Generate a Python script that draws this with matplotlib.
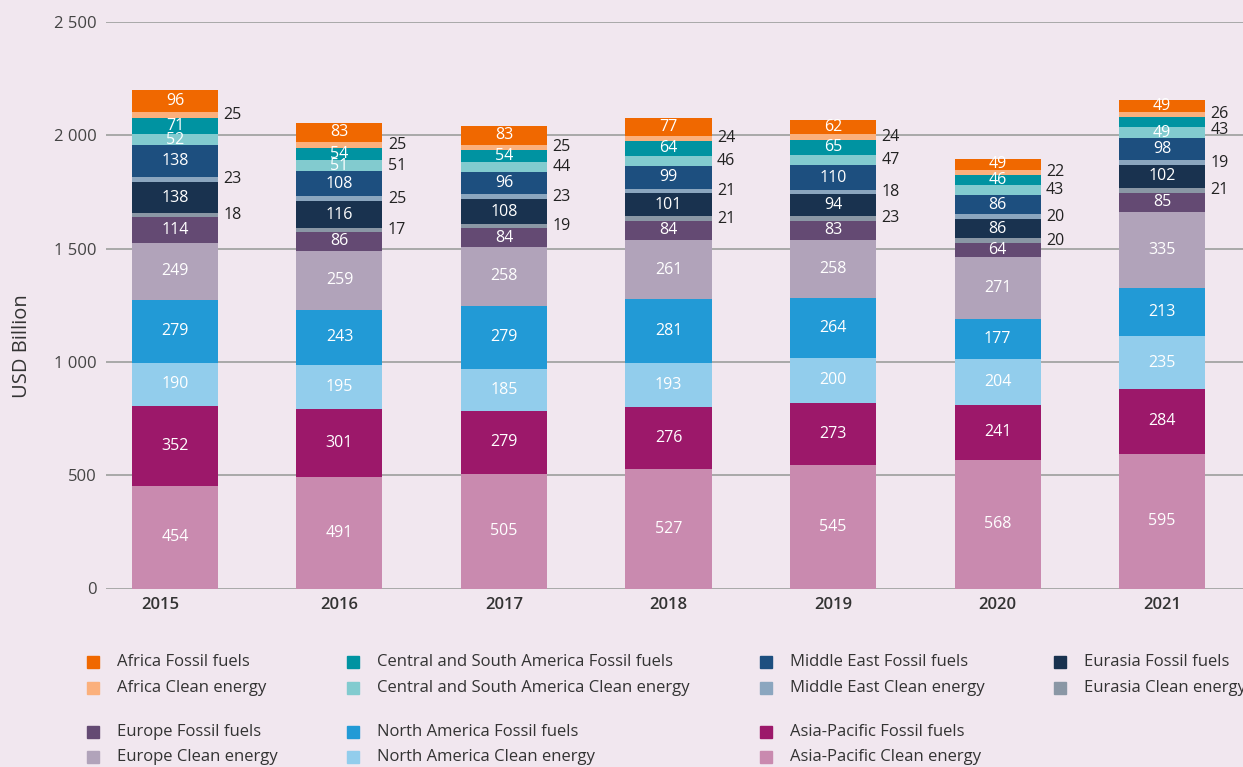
import matplotlib
matplotlib.use("Agg")
from matplotlib import pyplot as plt
from matplotlib.patches import Rectangle
from matplotlib.ticker import FuncFormatter
import matplotlib.transforms as mtransforms

years = [2015, 2016, 2017, 2018, 2019, 2020, 2021]

# stacked bottom -> top
ap_clean = [454, 491, 505, 527, 545, 568, 595]
ap_fossil = [352, 301, 279, 276, 273, 241, 284]
na_clean = [190, 195, 185, 193, 200, 204, 235]
na_fossil = [279, 243, 279, 281, 264, 177, 213]
eu_clean = [249, 259, 258, 261, 258, 271, 335]
eu_fossil = [114, 86, 84, 84, 83, 64, 85]
ea_clean = [18, 17, 19, 21, 23, 20, 21]
ea_fossil = [138, 116, 108, 101, 94, 86, 102]
me_clean = [23, 25, 23, 21, 18, 20, 19]
me_fossil = [138, 108, 96, 99, 110, 86, 98]
csa_clean = [52, 51, 44, 46, 47, 43, 49]
csa_fossil = [71, 54, 54, 64, 65, 46, 43]
af_clean = [25, 25, 25, 24, 24, 22, 26]
af_fossil = [96, 83, 83, 77, 62, 49, 49]

series = [
    ("Asia-Pacific Clean energy", ap_clean, "#c98aaf"),
    ("Asia-Pacific Fossil fuels", ap_fossil, "#9c186a"),
    ("North America Clean energy", na_clean, "#92cdec"),
    ("North America Fossil fuels", na_fossil, "#229ad6"),
    ("Europe Clean energy", eu_clean, "#b1a3ba"),
    ("Europe Fossil fuels", eu_fossil, "#644a73"),
    ("Eurasia Clean energy", ea_clean, "#8a97a5"),
    ("Eurasia Fossil fuels", ea_fossil, "#19324f"),
    ("Middle East Clean energy", me_clean, "#8ba6bf"),
    ("Middle East Fossil fuels", me_fossil, "#1d4f7f"),
    ("Central and South America Clean energy", csa_clean, "#82cbcf"),
    ("Central and South America Fossil fuels", csa_fossil, "#0093a1"),
    ("Africa Clean energy", af_clean, "#fbb07c"),
    ("Africa Fossil fuels", af_fossil, "#f06800"),
]

# labels drawn beside the bar instead of (or as well as) inside it
csa_c = "Central and South America Clean energy"
csa_f = "Central and South America Fossil fuels"
outside_extra = {(csa_c, 2016), (csa_c, 2017), (csa_c, 2018), (csa_c, 2019),
                 (csa_c, 2020), (csa_f, 2021)}
no_inside = {(csa_c, 2017), (csa_c, 2018), (csa_c, 2019), (csa_c, 2020),
             (csa_f, 2021)}

bg = "#f1e7ef"
plt.rcParams['font.family'] = ['Open Sans', 'DejaVu Sans']

fig = plt.figure(figsize=(12.43, 7.67), dpi=100, facecolor=bg)
ax = fig.add_axes([106 / 1243, 1 - 588.5 / 767, 1 - 106 / 1243, (588.5 - 22) / 767])
ax.set_facecolor(bg)

x = list(range(len(years)))
w = 0.523
px_per_unit = (588.5 - 22) / 2500
min_gap = 16 / px_per_unit  # minimum spacing of side labels, in data units
bottom = [0] * len(years)
side_labels = [[] for _ in years]
for name, vals, col in series:
    ax.bar(x, vals, w, bottom=bottom, color=col, zorder=3)
    for i, v in enumerate(vals):
        yc = bottom[i] + v / 2
        key = (name, years[i])
        outside = v < 30 or key in outside_extra
        inside = v >= 30 and key not in no_inside
        if inside:
            ax.text(x[i], yc, str(v), ha="center", va="center", color="white",
                    fontsize=11.5, zorder=4)
        if outside:
            side_labels[i].append([yc, v])
    bottom = [b + v for b, v in zip(bottom, vals)]

for i, labs in enumerate(side_labels):
    labs.sort(key=lambda t: -t[0])
    for j in range(1, len(labs)):
        if labs[j - 1][0] - labs[j][0] < min_gap:
            labs[j][0] = labs[j - 1][0] - min_gap
    for yc, v in labs:
        ax.annotate(str(v), (x[i] + w / 2, yc), xytext=(4, 0),
                    textcoords="offset points", ha="left", va="center",
                    color="#222222", fontsize=11.5, zorder=4)

ax.set_xlim(-0.419, 6.492)
ax.set_ylim(0, 2500)
ax.set_yticks([0, 500, 1000, 1500, 2000, 2500])
ax.yaxis.set_major_formatter(FuncFormatter(lambda v, p: f"{int(v):,}".replace(",", " ")))
ax.grid(axis="y", color="#a9a9a9", linewidth=1.4, zorder=0)
for s in ax.spines.values():
    s.set_visible(False)
ax.tick_params(axis="both", length=0, labelsize=12, colors="#444444")
ax.tick_params(axis="y", pad=7)
ax.set_xticks(x)
ax.set_xticklabels([str(y) for y in years], fontweight="semibold", color="#333333")
ax.tick_params(axis="x", pad=6)
lab0 = ax.get_xticklabels()[0]
lab0.set_transform(lab0.get_transform() + mtransforms.ScaledTranslation(-15 / 100, 0, fig.dpi_scale_trans))

fig.text(22 / 1243, 1 - 346 / 767, "USD Billion", rotation=90, ha="center", va="center",
         fontsize=14.5, color="#333333")

# legend laid out in four columns like the original
legend_cols = [
    [("Africa Fossil fuels", 0), ("Africa Clean energy", 1),
     ("Europe Fossil fuels", 2), ("Europe Clean energy", 3)],
    [("Central and South America Fossil fuels", 0), ("Central and South America Clean energy", 1),
     ("North America Fossil fuels", 2), ("North America Clean energy", 3)],
    [("Middle East Fossil fuels", 0), ("Middle East Clean energy", 1),
     ("Asia-Pacific Fossil fuels", 2), ("Asia-Pacific Clean energy", 3)],
    [("Eurasia Fossil fuels", 0), ("Eurasia Clean energy", 1)],
]
colors = {name: col for name, vals, col in series}
col_x = [87, 347, 760, 1054]
row_y = [662, 688, 732, 757]
for cx, items in zip(col_x, legend_cols):
    for name, r in items:
        ry = row_y[r]
        fig.patches.append(Rectangle((cx / 1243, 1 - (ry + 6) / 767), 12 / 1243, 12 / 767,
                                     transform=fig.transFigure, color=colors[name]))
        fig.text((cx + 30) / 1243, 1 - ry / 767, name, ha="left", va="center",
                 fontsize=12, color="#333333")

fig.savefig("out.png", dpi=100, facecolor=bg)
